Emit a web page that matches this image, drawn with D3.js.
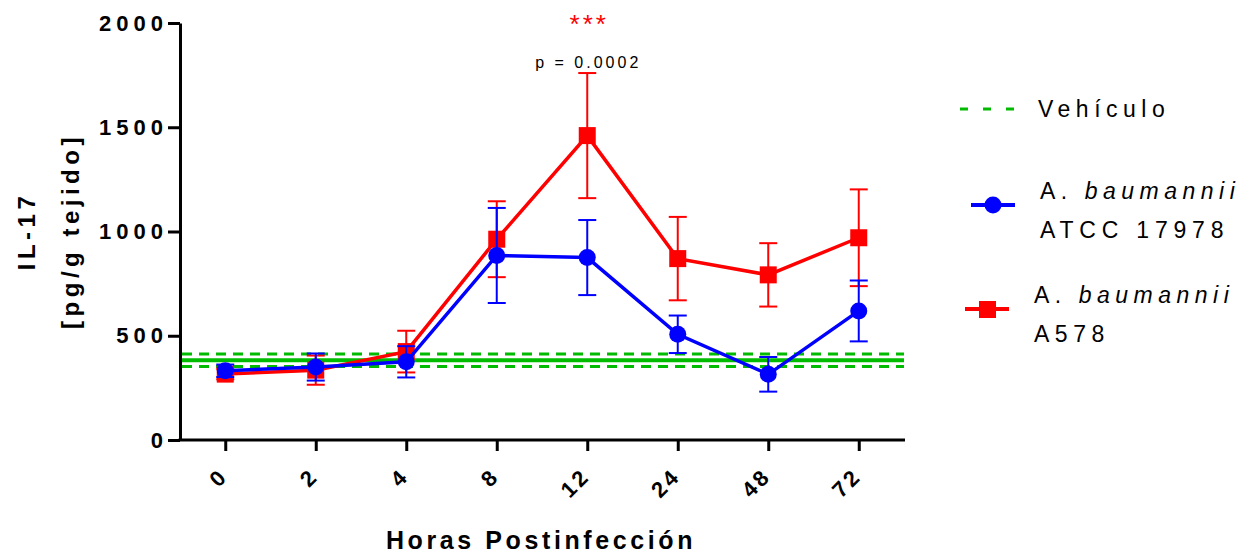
<!DOCTYPE html>
<html><head><meta charset="utf-8">
<script src="https://cdn.jsdelivr.net/npm/d3@7"></script>
<style>
body{margin:0;background:#fff;}
svg{display:block;font-family:"Liberation Sans",Arial,sans-serif;}
</style></head>
<body><svg id="c" width="1250" height="556"></svg>
<script>
const categories = ["0","2","4","8","12","24","48","72"];
const atccMean = [332, 350, 375, 885, 875, 507, 315, 619];
const atccErr  = [30, 65, 75, 228, 180, 90, 83, 146];
const a578Mean = [316, 335, 424, 963, 1460, 870, 792, 970];
const a578Err  = [25, 70, 100, 182, 300, 200, 152, 232];
const vehMean = 383;
const vehErr = 30;
const yTicks = [0, 500, 1000, 1500, 2000];

const FF = "Liberation Sans, Arial, sans-serif";
const svg = d3.select("#c");
const x = d3.scalePoint().domain(categories).range([180, 904]).padding(0.5);
const y = d3.scaleLinear().domain([0, 2000]).range([440, 23]);
const green = "#00bb00", blue = "#0000ff", red = "#ff0000";

// vehicle band
const g0 = svg.append("g");
g0.append("line").attr("x1",180).attr("x2",904).attr("y1",y(vehMean)).attr("y2",y(vehMean))
  .attr("stroke",green).attr("stroke-width",4);
[vehMean+vehErr, vehMean-vehErr].forEach(v=>{
  g0.append("line").attr("x1",182).attr("x2",904).attr("y1",y(v)).attr("y2",y(v))
    .attr("stroke",green).attr("stroke-width",3).attr("stroke-dasharray","10,7");
});

function series(mean, err, color, shape){
  const g = svg.append("g");
  const data = categories.map((c,i)=>({c, m:mean[i], e:err[i]}));
  data.forEach(d=>{
    const cx = x(d.c);
    g.append("line").attr("x1",cx).attr("x2",cx).attr("y1",y(d.m+d.e)).attr("y2",y(d.m-d.e))
      .attr("stroke",color).attr("stroke-width",2);
    [d.m+d.e, d.m-d.e].forEach(v=>{
      g.append("line").attr("x1",cx-9).attr("x2",cx+9).attr("y1",y(v)).attr("y2",y(v))
        .attr("stroke",color).attr("stroke-width",2);
    });
  });
  g.append("path").datum(data)
    .attr("d", d3.line().x(d=>x(d.c)).y(d=>y(d.m)))
    .attr("fill","none").attr("stroke",color).attr("stroke-width",3.5);
  data.forEach(d=>{
    if(shape==="circle"){
      g.append("circle").attr("cx",x(d.c)).attr("cy",y(d.m)).attr("r",8.5).attr("fill",color);
    } else {
      g.append("rect").attr("x",x(d.c)-8.5).attr("y",y(d.m)-8.5).attr("width",17).attr("height",17).attr("fill",color);
    }
  });
}
series(a578Mean, a578Err, red, "square");
series(atccMean, atccErr, blue, "circle");

// axes
const yAxis = svg.append("g").attr("transform","translate(180,0)")
  .call(d3.axisLeft(y).tickValues(yTicks).tickSize(12).tickSizeOuter(0).tickPadding(5).tickFormat(d3.format("d")));
yAxis.attr("font-family",FF).attr("font-size",22);
yAxis.select(".domain").attr("stroke","#000").attr("stroke-width",3);
yAxis.selectAll(".tick line").attr("stroke","#000").attr("stroke-width",3);
yAxis.selectAll(".tick text").attr("font-weight","bold").attr("fill","#000")
  .attr("letter-spacing",5).attr("dx",5);

const xAxis = svg.append("g").attr("transform","translate(0,440)")
  .call(d3.axisBottom(x).tickSize(11).tickSizeOuter(0));
xAxis.attr("font-family",FF).attr("font-size",22);
xAxis.select(".domain").attr("stroke","#000").attr("stroke-width",3).attr("d","M178.5,0H905");
xAxis.selectAll(".tick line").attr("stroke","#000").attr("stroke-width",3);
xAxis.selectAll(".tick text").attr("font-weight","bold").attr("fill","#000")
  .attr("letter-spacing",3)
  .attr("text-anchor","end").attr("y",0).attr("dy","0.35em")
  .attr("transform","translate(-2,32) rotate(-45)");

// axis titles
svg.append("text").attr("x",541).attr("y",549).attr("text-anchor","middle")
  .attr("font-size",25).attr("font-weight","bold").attr("letter-spacing",3.6)
  .text("Horas Postinfección");
const yt = svg.append("text").attr("transform","translate(0,231) rotate(-90)")
  .attr("text-anchor","middle").attr("font-size",24).attr("font-weight","bold").attr("letter-spacing",4.5);
yt.append("tspan").attr("x",0).attr("y",35).text("IL-17");
yt.append("tspan").attr("x",0).attr("y",79).text("[pg/g tejido]");

// annotations
svg.append("text").attr("x",x("12")+2).attr("y",33).attr("text-anchor","middle")
  .attr("font-size",26).attr("fill",red).attr("letter-spacing",3).text("***");
svg.append("text").attr("x",x("12")+1).attr("y",68).attr("text-anchor","middle")
  .attr("font-size",16).attr("fill","#000").attr("letter-spacing",3).text("p = 0.0002");

// legend
const lg = svg.append("g").attr("font-size",23);
lg.append("line").attr("x1",960).attr("x2",1015).attr("y1",109).attr("y2",109)
  .attr("stroke",green).attr("stroke-width",3).attr("stroke-dasharray","8,15");
lg.append("text").attr("x",1038).attr("y",117).attr("letter-spacing",5.5).text("Vehículo");

lg.append("line").attr("x1",971).attr("x2",1015).attr("y1",205).attr("y2",205).attr("stroke",blue).attr("stroke-width",4);
lg.append("circle").attr("cx",993).attr("cy",205).attr("r",8.5).attr("fill",blue);
const t1 = lg.append("text").attr("x",1040).attr("y",199).attr("letter-spacing",5.5);
t1.append("tspan").text("A. ");
t1.append("tspan").attr("font-style","italic").text("baumannii");
lg.append("text").attr("x",1040).attr("y",238).attr("letter-spacing",5.8).text("ATCC 17978");

lg.append("line").attr("x1",965).attr("x2",1009).attr("y1",309).attr("y2",309).attr("stroke",red).attr("stroke-width",4);
lg.append("rect").attr("x",979).attr("y",301).attr("width",17).attr("height",17).attr("fill",red);
const t2 = lg.append("text").attr("x",1034).attr("y",303).attr("letter-spacing",5.5);
t2.append("tspan").text("A. ");
t2.append("tspan").attr("font-style","italic").text("baumannii");
lg.append("text").attr("x",1034).attr("y",342).attr("letter-spacing",5.5).text("A578");
</script></body></html>
